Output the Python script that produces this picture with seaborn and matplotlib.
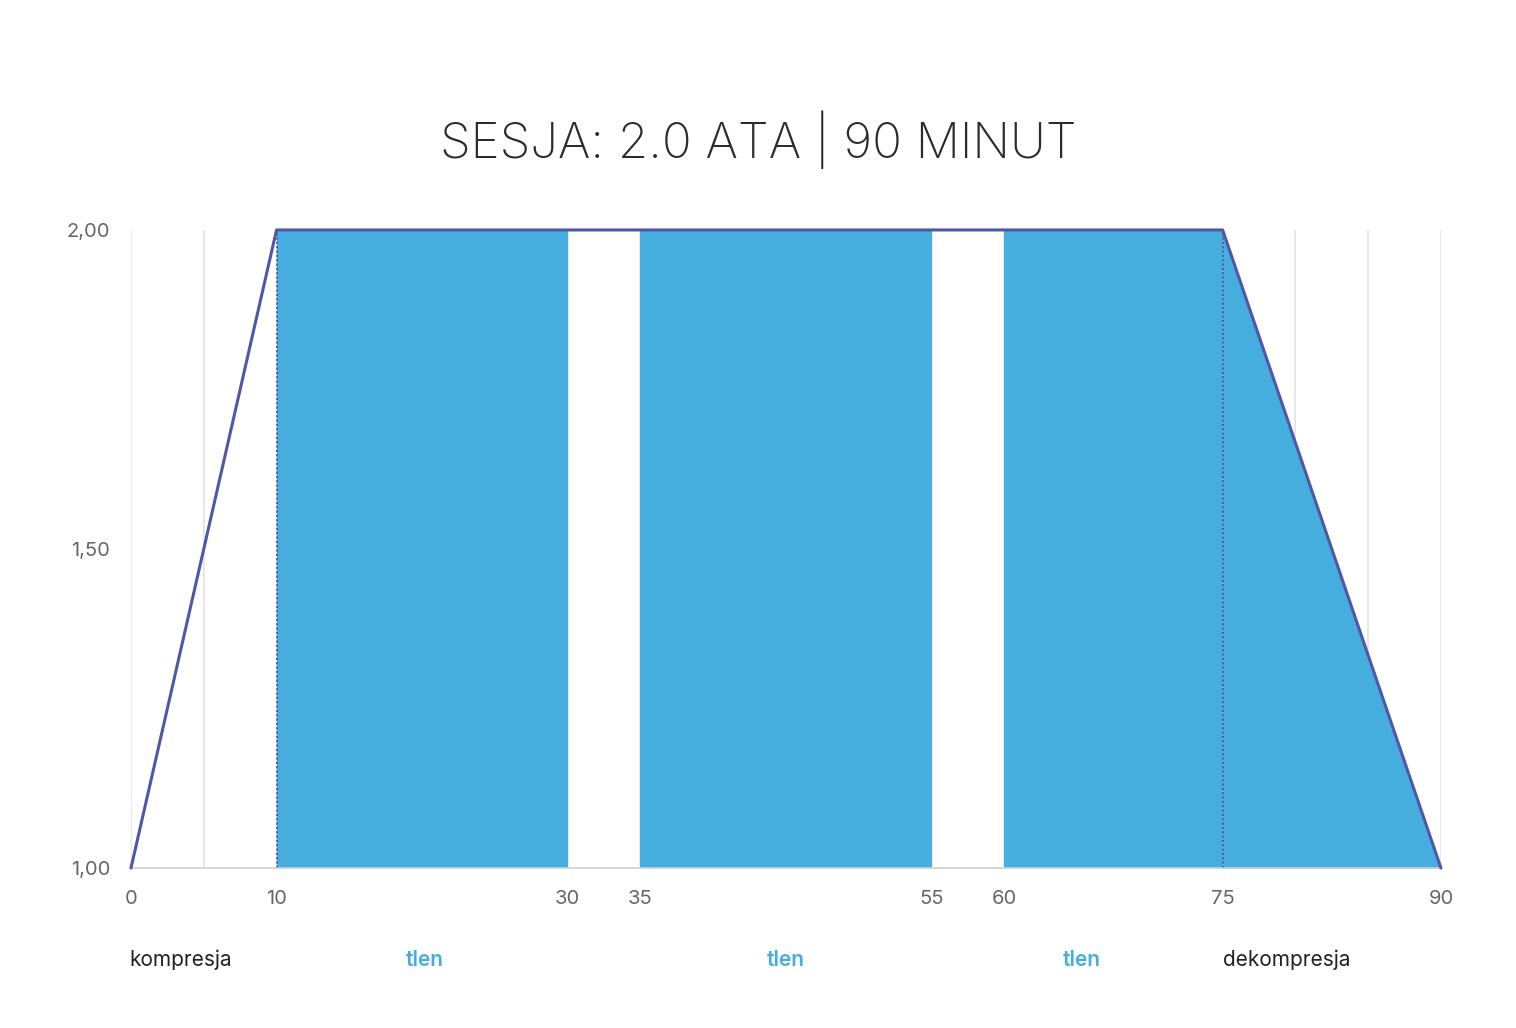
#! /usr/bin/env python

import matplotlib
matplotlib.use("Agg")
import matplotlib.pyplot as plt
import matplotlib.transforms as mtransforms
import numpy as np
import pandas as pd
import seaborn as sns

# pressure profile of the session
time_min = [0, 10, 75, 90]
pressure_ata = [1.0, 2.0, 2.0, 1.0]

# oxygen breathing blocks (start, end in minutes)
oxygen_start = [10, 35, 60]
oxygen_end = [30, 55, 75]

x_ticks = [0, 10, 30, 35, 55, 60, 75, 90]
y_ticks = [1.0, 1.5, 2.0]

phase_names = ["kompresja", "tlen", "tlen", "tlen", "dekompresja"]
phase_pos = [-0.1, 20.2, 45, 65.3, 75]
phase_align = ["left", "center", "center", "center", "left"]
phase_colors = ["#222222", "#45ADE0", "#45ADE0", "#45ADE0", "#222222"]

FILL = "#46ADDF"
LINE = "#5057A8"

sns.set_theme(style="white")
plt.rcParams["font.family"] = ["Inter", "DejaVu Sans"]

fig = plt.figure(figsize=(15.16, 10.28), dpi=100)
ax = fig.add_axes([0.0864, 0.1556, 0.8641, 0.6207])

# vertical grid every 5 minutes
for g in np.arange(0, 91, 5):
    ax.axvline(g, color="#e3e3e3", lw=1.2, zorder=0)

# oxygen blocks
for s, e in zip(oxygen_start, oxygen_end):
    ax.fill_between([s, e], 1.0, 2.0, color=FILL, lw=0, zorder=1)

# decompression area under the line
ax.fill_between(time_min[2:], pressure_ata[2:], 1.0, color=FILL, lw=0, zorder=1)

df = pd.DataFrame(dict(time=time_min, pressure=pressure_ata))
sns.lineplot(data=df, x="time", y="pressure", color=LINE, lw=2.2, ax=ax,
             zorder=3, clip_on=False)

for x in (time_min[1], time_min[2]):
    ax.axvline(x, color=LINE, lw=1.3, ls=(0, (1.2, 1.2)), zorder=2)

ax.set_xlim(0, 90)
ax.set_ylim(1.0, 2.0)
ax.set_xticks(x_ticks)
ax.set_xticklabels([str(t) for t in x_ticks])
ax.set_yticks(y_ticks)
ax.set_yticklabels([f"{v:.2f}".replace(".", ",") for v in y_ticks])
ax.tick_params(axis="x", length=0, pad=16, labelsize=14.5, labelcolor="#666666")
ax.tick_params(axis="y", length=0, pad=15, labelsize=14.5, labelcolor="#666666")
ax.set_xlabel("")
ax.set_ylabel("")
for side in ("top", "right", "left"):
    ax.spines[side].set_visible(False)
ax.spines["bottom"].set_color("#d0d0d0")
ax.spines["bottom"].set_linewidth(1.2)

trans = mtransforms.blended_transform_factory(ax.transData, ax.transAxes)
for name, x, ha, c in zip(phase_names, phase_pos, phase_align, phase_colors):
    weight = "semibold" if name == "tlen" else "normal"
    ax.text(x, -0.144, name, transform=trans, ha=ha, va="center",
            fontsize=15, color=c, fontweight=weight)

fig.text(0.5, 0.864, "SESJA: 2.0 ATA | 90 MINUT", ha="center", va="center",
         fontsize=35.5, color="#2b2b2b", fontweight="light")

fig.savefig("out.png", dpi=100, facecolor="white")
